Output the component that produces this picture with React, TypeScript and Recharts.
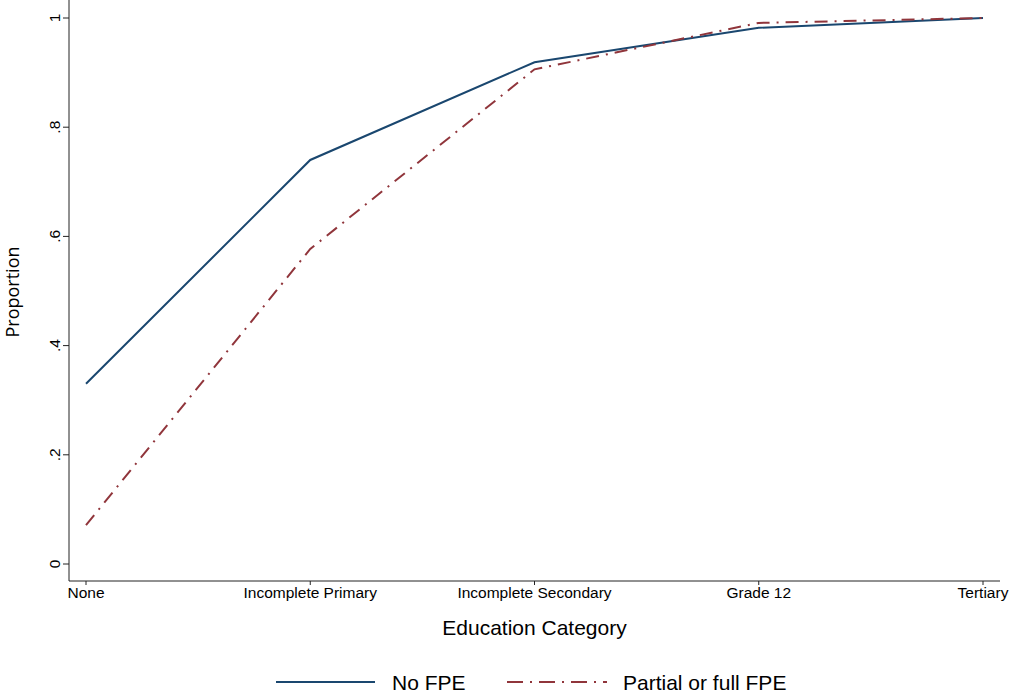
import React from "react";
import { LineChart, Line, XAxis, YAxis, Label } from "recharts";

const categories = [
  "None",
  "Incomplete Primary",
  "Incomplete Secondary",
  "Grade 12",
  "Tertiary",
];
const noFpe = [0.33, 0.74, 0.919, 0.982, 1.0];
const partialFpe = [0.071, 0.577, 0.906, 0.991, 1.0];
const yTicks = [0, 0.2, 0.4, 0.6, 0.8, 1];
const yTickLabels = ["0", ".2", ".4", ".6", ".8", "1"];

const NAVY = "#1a476f";
const MAROON = "#90353b";
const FONT = "'Liberation Sans', Arial, Helvetica, sans-serif";

const data = categories.map((cat, i) => ({
  cat,
  noFpe: noFpe[i],
  partialFpe: partialFpe[i],
}));

function YTick(props: any) {
  const { x, y, payload } = props;
  const idx = yTicks.indexOf(payload.value);
  return (
    <text
      x={x}
      y={y}
      transform={`rotate(-90, ${x}, ${y})`}
      textAnchor="middle"
      fontSize={15.5}
      fill="#000"
      fontFamily={FONT}
    >
      {idx >= 0 ? yTickLabels[idx] : payload.value}
    </text>
  );
}

export default function App() {
  return (
    <div
      style={{
        position: "absolute",
        left: 0,
        top: 0,
        width: 1012,
        height: 695,
        background: "#fff",
        fontFamily: FONT,
      }}
    >
      <LineChart
        width={1012}
        height={695}
        data={data}
        margin={{ top: 0, right: 12, left: 0, bottom: 0 }}
      >
        <XAxis
          dataKey="cat"
          type="category"
          height={114}
          padding={{ left: 17, right: 17 }}
          interval={0}
          stroke="#222"
          tickSize={4}
          tickMargin={2}
          tick={{ fontSize: 15.5, fill: "#000", fontFamily: FONT }}
          label={{
            value: "Education Category",
            position: "insideTop",
            offset: 39,
            fontSize: 21,
            fill: "#000",
            fontFamily: FONT,
          }}
        />
        <YAxis
          width={69}
          domain={[0, 1]}
          ticks={yTicks}
          padding={{ top: 18, bottom: 17 }}
          stroke="#222"
          tickSize={6}
          tickMargin={3}
          tick={<YTick />}
        >
          <Label
            content={() => (
              <text
                x={19}
                y={292}
                transform="rotate(-90, 19, 292)"
                textAnchor="middle"
                fontSize={18}
                fill="#000"
                fontFamily="'Open Sans', 'Noto Sans', sans-serif"
              >
                Proportion
              </text>
            )}
          />
        </YAxis>
        <Line
          type="linear"
          dataKey="noFpe"
          stroke={NAVY}
          strokeWidth={2}
          dot={false}
          isAnimationActive={false}
        />
        <Line
          type="linear"
          dataKey="partialFpe"
          stroke={MAROON}
          strokeWidth={2}
          strokeDasharray="13 7 2 7"
          dot={false}
          isAnimationActive={false}
        />
      </LineChart>
      <svg
        width={1012}
        height={40}
        style={{ position: "absolute", left: 0, top: 660 }}
      >
        <line x1={276} x2={375} y1={22} y2={22} stroke={NAVY} strokeWidth={2} />
        <text x={392} y={30} fontSize={21} fill="#000" fontFamily={FONT}>
          No FPE
        </text>
        <line
          x1={507}
          x2={607}
          y1={22}
          y2={22}
          stroke={MAROON}
          strokeWidth={2}
          strokeDasharray="16 7 2 7"
        />
        <text x={623} y={30} fontSize={21} fill="#000" fontFamily={FONT}>
          Partial or full FPE
        </text>
      </svg>
    </div>
  );
}
